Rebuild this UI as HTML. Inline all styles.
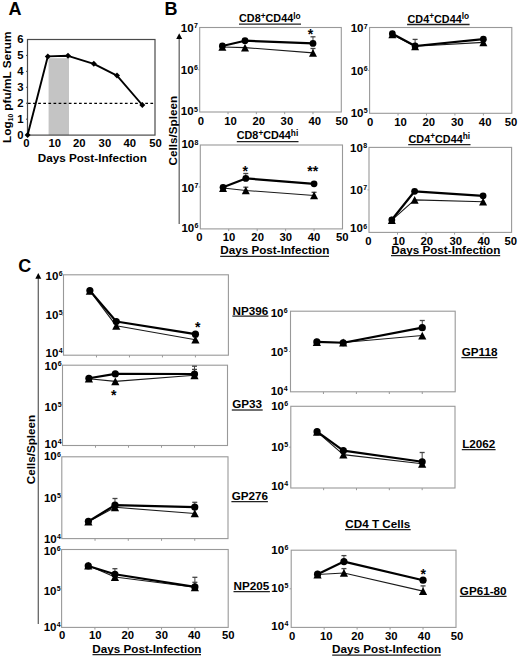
<!DOCTYPE html>
<html><head><meta charset="utf-8"><style>
html,body{margin:0;padding:0;background:#fff;overflow:hidden;width:520px;height:657px;}
svg{display:block;}
text{font-family:"Liberation Sans", sans-serif;}
</style></head><body>
<svg width="520" height="657" viewBox="0 0 520 657">
<rect width="520" height="657" fill="#fff"/>
<text transform="translate(8.60,14.80)" font-size="18" text-anchor="start" font-weight="bold" fill="#000">A</text>
<rect x="48.6" y="58.2" width="20.4" height="76.90" fill="#c4c4c4"/>
<line x1="28.00" y1="103.40" x2="155.00" y2="103.40" stroke="#000" stroke-width="1.1" stroke-dasharray="2.7,2.4"/>
<rect x="27.50" y="39.50" width="127.50" height="95.60" fill="none" stroke="#4a4a4a" stroke-width="1.2"/>
<line x1="26.00" y1="119.17" x2="27.50" y2="119.17" stroke="#4a4a4a" stroke-width="1" />
<line x1="26.00" y1="103.23" x2="27.50" y2="103.23" stroke="#4a4a4a" stroke-width="1" />
<line x1="26.00" y1="87.30" x2="27.50" y2="87.30" stroke="#4a4a4a" stroke-width="1" />
<line x1="26.00" y1="71.37" x2="27.50" y2="71.37" stroke="#4a4a4a" stroke-width="1" />
<line x1="26.00" y1="55.43" x2="27.50" y2="55.43" stroke="#4a4a4a" stroke-width="1" />
<text transform="translate(23.60,138.90)" font-size="11.3" text-anchor="end" font-weight="bold" fill="#000">0</text>
<text transform="translate(23.60,122.97)" font-size="11.3" text-anchor="end" font-weight="bold" fill="#000">1</text>
<text transform="translate(23.60,107.03)" font-size="11.3" text-anchor="end" font-weight="bold" fill="#000">2</text>
<text transform="translate(23.60,91.10)" font-size="11.3" text-anchor="end" font-weight="bold" fill="#000">3</text>
<text transform="translate(23.60,75.17)" font-size="11.3" text-anchor="end" font-weight="bold" fill="#000">4</text>
<text transform="translate(23.60,59.23)" font-size="11.3" text-anchor="end" font-weight="bold" fill="#000">5</text>
<text transform="translate(23.60,43.30)" font-size="11.3" text-anchor="end" font-weight="bold" fill="#000">6</text>
<text transform="translate(26.40,146.80)" font-size="11.3" text-anchor="middle" font-weight="bold" fill="#000">0</text>
<text transform="translate(54.70,146.80)" font-size="11.3" text-anchor="middle" font-weight="bold" fill="#000">10</text>
<text transform="translate(79.25,146.80)" font-size="11.3" text-anchor="middle" font-weight="bold" fill="#000">20</text>
<text transform="translate(104.90,146.80)" font-size="11.3" text-anchor="middle" font-weight="bold" fill="#000">30</text>
<text transform="translate(129.70,146.80)" font-size="11.3" text-anchor="middle" font-weight="bold" fill="#000">40</text>
<text transform="translate(155.60,146.80)" font-size="11.3" text-anchor="middle" font-weight="bold" fill="#000">50</text>
<polyline points="27.60,135.10 47.80,56.40 68.00,55.80 93.80,63.80 117.00,75.60 142.30,105.00" fill="none" stroke="#000" stroke-width="1.9" stroke-linejoin="round"/>
<polygon points="27.60,132.10 30.60,135.10 27.60,138.10 24.60,135.10" fill="#000"/>
<polygon points="47.80,53.40 50.80,56.40 47.80,59.40 44.80,56.40" fill="#000"/>
<polygon points="68.00,52.80 71.00,55.80 68.00,58.80 65.00,55.80" fill="#000"/>
<polygon points="93.80,60.80 96.80,63.80 93.80,66.80 90.80,63.80" fill="#000"/>
<polygon points="117.00,72.60 120.00,75.60 117.00,78.60 114.00,75.60" fill="#000"/>
<polygon points="142.30,102.00 145.30,105.00 142.30,108.00 139.30,105.00" fill="#000"/>
<text transform="translate(37.74,161.60)" font-size="11.7" text-anchor="start" font-weight="bold" fill="#000">Days Post-Infection</text>
<text transform="translate(11.0,142.9) rotate(-90)" font-size="11.8" font-weight="bold" fill="#000">Log<tspan font-size="6.6" dy="2.0">10</tspan><tspan dy="-2.0"> pfu/mL Serum</tspan></text>
<text transform="translate(164.60,14.80)" font-size="18" text-anchor="start" font-weight="bold" fill="#000">B</text>
<line x1="179.20" y1="37.00" x2="179.20" y2="224.00" stroke="#666" stroke-width="1.3" />
<polygon points="179.2,33.3 182.2,38.9 176.2,38.9" fill="#000"/>
<text transform="translate(176.70,130.65) rotate(-90)" font-size="11.7" text-anchor="middle" font-weight="bold" fill="#000">Cells/Spleen</text>
<rect x="199.70" y="27.50" width="141.60" height="84.50" fill="none" stroke="#999" stroke-width="1.1"/>
<text transform="translate(197.80,111.50)" font-size="7" text-anchor="end" font-weight="bold" fill="#000">5</text>
<text transform="translate(193.60,115.40)" font-size="11.5" text-anchor="end" font-weight="bold" fill="#000">10</text>
<text transform="translate(197.80,69.85)" font-size="7" text-anchor="end" font-weight="bold" fill="#000">6</text>
<text transform="translate(193.60,73.75)" font-size="11.5" text-anchor="end" font-weight="bold" fill="#000">10</text>
<line x1="198.20" y1="69.75" x2="199.70" y2="69.75" stroke="#999" stroke-width="1" />
<text transform="translate(197.80,28.10)" font-size="7" text-anchor="end" font-weight="bold" fill="#000">7</text>
<text transform="translate(193.60,32.00)" font-size="11.5" text-anchor="end" font-weight="bold" fill="#000">10</text>
<line x1="228.02" y1="112.00" x2="228.02" y2="114.20" stroke="#999" stroke-width="1" />
<line x1="256.34" y1="112.00" x2="256.34" y2="114.20" stroke="#999" stroke-width="1" />
<line x1="284.66" y1="112.00" x2="284.66" y2="114.20" stroke="#999" stroke-width="1" />
<line x1="312.98" y1="112.00" x2="312.98" y2="114.20" stroke="#999" stroke-width="1" />
<text transform="translate(201.01,124.80)" font-size="11.3" text-anchor="middle" font-weight="bold" fill="#000">0</text>
<text transform="translate(230.62,124.80)" font-size="11.3" text-anchor="middle" font-weight="bold" fill="#000">10</text>
<text transform="translate(258.84,124.80)" font-size="11.3" text-anchor="middle" font-weight="bold" fill="#000">20</text>
<text transform="translate(286.90,124.80)" font-size="11.3" text-anchor="middle" font-weight="bold" fill="#000">30</text>
<text transform="translate(314.75,124.80)" font-size="11.3" text-anchor="middle" font-weight="bold" fill="#000">40</text>
<text transform="translate(341.72,124.80)" font-size="11.3" text-anchor="middle" font-weight="bold" fill="#000">50</text>
<polyline points="222.36,47.00 245.01,47.60 312.98,52.85" fill="none" stroke="#1a1a1a" stroke-width="1.1" stroke-linejoin="round"/>
<polyline points="222.36,46.00 245.01,40.70 312.98,43.45" fill="none" stroke="#000" stroke-width="2.2" stroke-linejoin="round"/>
<line x1="312.98" y1="52.85" x2="312.98" y2="48.50" stroke="#444" stroke-width="1" />
<line x1="310.48" y1="48.50" x2="315.48" y2="48.50" stroke="#444" stroke-width="1.3" />
<line x1="312.98" y1="43.45" x2="312.98" y2="36.80" stroke="#444" stroke-width="1" />
<line x1="310.48" y1="36.80" x2="315.48" y2="36.80" stroke="#444" stroke-width="1.3" />
<polygon points="222.36,43.15 226.36,50.85 218.36,50.85" fill="#000"/>
<polygon points="245.01,43.75 249.01,51.45 241.01,51.45" fill="#000"/>
<polygon points="312.98,49.00 316.98,56.70 308.98,56.70" fill="#000"/>
<circle cx="222.36" cy="46.00" r="3.4" fill="#000"/>
<circle cx="245.01" cy="40.70" r="3.4" fill="#000"/>
<circle cx="312.98" cy="43.45" r="3.4" fill="#000"/>
<text transform="translate(310.50,39.14)" font-size="14" text-anchor="middle" font-weight="bold" fill="#000">*</text>
<text transform="translate(239.07,22.40)" font-size="10.8" text-anchor="start" font-weight="bold" fill="#000">CD8<tspan font-size="8.3" dy="-3.6">+</tspan><tspan dy="3.6">CD44</tspan><tspan font-size="8.3" dy="-3.6">lo</tspan></text>
<line x1="239.00" y1="24.10" x2="301.00" y2="24.10" stroke="#222" stroke-width="1.3" />
<rect x="369.60" y="27.50" width="142.20" height="85.80" fill="none" stroke="#999" stroke-width="1.1"/>
<text transform="translate(367.70,112.60)" font-size="7" text-anchor="end" font-weight="bold" fill="#000">5</text>
<text transform="translate(363.50,116.50)" font-size="11.5" text-anchor="end" font-weight="bold" fill="#000">10</text>
<text transform="translate(367.70,71.10)" font-size="7" text-anchor="end" font-weight="bold" fill="#000">6</text>
<text transform="translate(363.50,75.00)" font-size="11.5" text-anchor="end" font-weight="bold" fill="#000">10</text>
<line x1="368.10" y1="70.40" x2="369.60" y2="70.40" stroke="#999" stroke-width="1" />
<text transform="translate(367.70,28.50)" font-size="7" text-anchor="end" font-weight="bold" fill="#000">7</text>
<text transform="translate(363.50,32.40)" font-size="11.5" text-anchor="end" font-weight="bold" fill="#000">10</text>
<line x1="398.04" y1="113.30" x2="398.04" y2="115.50" stroke="#999" stroke-width="1" />
<line x1="426.48" y1="113.30" x2="426.48" y2="115.50" stroke="#999" stroke-width="1" />
<line x1="454.92" y1="113.30" x2="454.92" y2="115.50" stroke="#999" stroke-width="1" />
<line x1="483.36" y1="113.30" x2="483.36" y2="115.50" stroke="#999" stroke-width="1" />
<text transform="translate(370.26,125.60)" font-size="11.3" text-anchor="middle" font-weight="bold" fill="#000">0</text>
<text transform="translate(400.47,125.60)" font-size="11.3" text-anchor="middle" font-weight="bold" fill="#000">10</text>
<text transform="translate(428.74,125.60)" font-size="11.3" text-anchor="middle" font-weight="bold" fill="#000">20</text>
<text transform="translate(457.35,125.60)" font-size="11.3" text-anchor="middle" font-weight="bold" fill="#000">30</text>
<text transform="translate(485.15,125.60)" font-size="11.3" text-anchor="middle" font-weight="bold" fill="#000">40</text>
<text transform="translate(510.92,125.60)" font-size="11.3" text-anchor="middle" font-weight="bold" fill="#000">50</text>
<polyline points="392.35,34.45 415.10,46.30 483.36,42.35" fill="none" stroke="#1a1a1a" stroke-width="1.1" stroke-linejoin="round"/>
<polyline points="392.35,33.70 415.10,46.00 483.36,39.20" fill="none" stroke="#000" stroke-width="2.2" stroke-linejoin="round"/>
<line x1="415.10" y1="46.00" x2="415.10" y2="39.40" stroke="#444" stroke-width="1" />
<line x1="412.60" y1="39.40" x2="417.60" y2="39.40" stroke="#444" stroke-width="1.3" />
<polygon points="392.35,30.60 396.35,38.30 388.35,38.30" fill="#000"/>
<polygon points="415.10,42.45 419.10,50.15 411.10,50.15" fill="#000"/>
<polygon points="483.36,38.50 487.36,46.20 479.36,46.20" fill="#000"/>
<circle cx="392.35" cy="33.70" r="3.4" fill="#000"/>
<circle cx="415.10" cy="46.00" r="3.4" fill="#000"/>
<circle cx="483.36" cy="39.20" r="3.4" fill="#000"/>
<text transform="translate(407.57,22.70)" font-size="10.8" text-anchor="start" font-weight="bold" fill="#000">CD4<tspan font-size="8.3" dy="-3.6">+</tspan><tspan dy="3.6">CD44</tspan><tspan font-size="8.3" dy="-3.6">lo</tspan></text>
<line x1="407.10" y1="24.50" x2="469.60" y2="24.50" stroke="#222" stroke-width="1.3" />
<rect x="200.30" y="145.00" width="142.20" height="83.90" fill="none" stroke="#999" stroke-width="1.1"/>
<text transform="translate(198.40,228.20)" font-size="7" text-anchor="end" font-weight="bold" fill="#000">6</text>
<text transform="translate(194.20,232.10)" font-size="11.5" text-anchor="end" font-weight="bold" fill="#000">10</text>
<text transform="translate(198.40,187.60)" font-size="7" text-anchor="end" font-weight="bold" fill="#000">7</text>
<text transform="translate(194.20,191.50)" font-size="11.5" text-anchor="end" font-weight="bold" fill="#000">10</text>
<line x1="198.80" y1="186.95" x2="200.30" y2="186.95" stroke="#999" stroke-width="1" />
<text transform="translate(198.40,144.50)" font-size="7" text-anchor="end" font-weight="bold" fill="#000">8</text>
<text transform="translate(194.20,148.40)" font-size="11.5" text-anchor="end" font-weight="bold" fill="#000">10</text>
<line x1="228.74" y1="228.90" x2="228.74" y2="231.10" stroke="#999" stroke-width="1" />
<line x1="257.18" y1="228.90" x2="257.18" y2="231.10" stroke="#999" stroke-width="1" />
<line x1="285.62" y1="228.90" x2="285.62" y2="231.10" stroke="#999" stroke-width="1" />
<line x1="314.06" y1="228.90" x2="314.06" y2="231.10" stroke="#999" stroke-width="1" />
<text transform="translate(199.41,240.90)" font-size="11.3" text-anchor="middle" font-weight="bold" fill="#000">0</text>
<text transform="translate(229.02,240.90)" font-size="11.3" text-anchor="middle" font-weight="bold" fill="#000">10</text>
<text transform="translate(257.64,240.90)" font-size="11.3" text-anchor="middle" font-weight="bold" fill="#000">20</text>
<text transform="translate(285.85,240.90)" font-size="11.3" text-anchor="middle" font-weight="bold" fill="#000">30</text>
<text transform="translate(314.00,240.90)" font-size="11.3" text-anchor="middle" font-weight="bold" fill="#000">40</text>
<text transform="translate(342.17,240.90)" font-size="11.3" text-anchor="middle" font-weight="bold" fill="#000">50</text>
<polyline points="223.05,188.05 245.80,190.45 314.06,195.45" fill="none" stroke="#1a1a1a" stroke-width="1.1" stroke-linejoin="round"/>
<polyline points="223.05,187.30 245.80,178.40 314.06,183.85" fill="none" stroke="#000" stroke-width="2.2" stroke-linejoin="round"/>
<line x1="245.80" y1="190.45" x2="245.80" y2="187.20" stroke="#444" stroke-width="1" />
<line x1="243.30" y1="187.20" x2="248.30" y2="187.20" stroke="#444" stroke-width="1.3" />
<line x1="314.06" y1="195.45" x2="314.06" y2="192.30" stroke="#444" stroke-width="1" />
<line x1="311.56" y1="192.30" x2="316.56" y2="192.30" stroke="#444" stroke-width="1.3" />
<line x1="245.80" y1="178.40" x2="245.80" y2="173.50" stroke="#444" stroke-width="1" />
<line x1="243.30" y1="173.50" x2="248.30" y2="173.50" stroke="#444" stroke-width="1.3" />
<polygon points="223.05,184.20 227.05,191.90 219.05,191.90" fill="#000"/>
<polygon points="245.80,186.60 249.80,194.30 241.80,194.30" fill="#000"/>
<polygon points="314.06,191.60 318.06,199.30 310.06,199.30" fill="#000"/>
<circle cx="223.05" cy="187.30" r="3.4" fill="#000"/>
<circle cx="245.80" cy="178.40" r="3.4" fill="#000"/>
<circle cx="314.06" cy="183.85" r="3.4" fill="#000"/>
<text transform="translate(245.10,175.64)" font-size="14" text-anchor="middle" font-weight="bold" fill="#000">*</text>
<text transform="translate(312.70,175.54)" font-size="14" text-anchor="middle" font-weight="bold" fill="#000">**</text>
<text transform="translate(236.77,139.40)" font-size="10.8" text-anchor="start" font-weight="bold" fill="#000">CD8<tspan font-size="8.3" dy="-3.6">+</tspan><tspan dy="3.6">CD44</tspan><tspan font-size="8.3" dy="-3.6">hi</tspan></text>
<line x1="236.80" y1="141.70" x2="298.50" y2="141.70" stroke="#222" stroke-width="1.3" />
<text transform="translate(220.24,254.40)" font-size="11.7" text-anchor="start" font-weight="bold" fill="#000">Days Post-Infection</text>
<line x1="220.20" y1="256.40" x2="329.00" y2="256.40" stroke="#222" stroke-width="1.3" />
<rect x="369.00" y="147.40" width="142.60" height="85.00" fill="none" stroke="#999" stroke-width="1.1"/>
<text transform="translate(367.10,228.50)" font-size="7" text-anchor="end" font-weight="bold" fill="#000">6</text>
<text transform="translate(362.90,232.40)" font-size="11.5" text-anchor="end" font-weight="bold" fill="#000">10</text>
<text transform="translate(367.10,190.30)" font-size="7" text-anchor="end" font-weight="bold" fill="#000">7</text>
<text transform="translate(362.90,194.20)" font-size="11.5" text-anchor="end" font-weight="bold" fill="#000">10</text>
<line x1="367.50" y1="189.90" x2="369.00" y2="189.90" stroke="#999" stroke-width="1" />
<text transform="translate(367.10,147.90)" font-size="7" text-anchor="end" font-weight="bold" fill="#000">8</text>
<text transform="translate(362.90,151.80)" font-size="11.5" text-anchor="end" font-weight="bold" fill="#000">10</text>
<line x1="397.52" y1="232.40" x2="397.52" y2="234.60" stroke="#999" stroke-width="1" />
<line x1="426.04" y1="232.40" x2="426.04" y2="234.60" stroke="#999" stroke-width="1" />
<line x1="454.56" y1="232.40" x2="454.56" y2="234.60" stroke="#999" stroke-width="1" />
<line x1="483.08" y1="232.40" x2="483.08" y2="234.60" stroke="#999" stroke-width="1" />
<text transform="translate(368.46,244.70)" font-size="11.3" text-anchor="middle" font-weight="bold" fill="#000">0</text>
<text transform="translate(398.87,244.70)" font-size="11.3" text-anchor="middle" font-weight="bold" fill="#000">10</text>
<text transform="translate(426.74,244.70)" font-size="11.3" text-anchor="middle" font-weight="bold" fill="#000">20</text>
<text transform="translate(455.85,244.70)" font-size="11.3" text-anchor="middle" font-weight="bold" fill="#000">30</text>
<text transform="translate(483.75,244.70)" font-size="11.3" text-anchor="middle" font-weight="bold" fill="#000">40</text>
<text transform="translate(510.67,244.70)" font-size="11.3" text-anchor="middle" font-weight="bold" fill="#000">50</text>
<polyline points="391.82,220.15 414.63,199.90 483.08,201.70" fill="none" stroke="#1a1a1a" stroke-width="1.1" stroke-linejoin="round"/>
<polyline points="391.82,219.80 414.63,191.30 483.08,195.85" fill="none" stroke="#000" stroke-width="2.2" stroke-linejoin="round"/>
<polygon points="391.82,216.30 395.82,224.00 387.82,224.00" fill="#000"/>
<polygon points="414.63,196.05 418.63,203.75 410.63,203.75" fill="#000"/>
<polygon points="483.08,197.85 487.08,205.55 479.08,205.55" fill="#000"/>
<circle cx="391.82" cy="219.80" r="3.4" fill="#000"/>
<circle cx="414.63" cy="191.30" r="3.4" fill="#000"/>
<circle cx="483.08" cy="195.85" r="3.4" fill="#000"/>
<text transform="translate(408.57,142.80)" font-size="10.8" text-anchor="start" font-weight="bold" fill="#000">CD4<tspan font-size="8.3" dy="-3.6">+</tspan><tspan dy="3.6">CD44</tspan><tspan font-size="8.3" dy="-3.6">hi</tspan></text>
<line x1="408.20" y1="144.70" x2="470.50" y2="144.70" stroke="#222" stroke-width="1.3" />
<text transform="translate(391.24,253.80)" font-size="11.7" text-anchor="start" font-weight="bold" fill="#000">Days Post-Infection</text>
<line x1="391.00" y1="255.60" x2="500.20" y2="255.60" stroke="#222" stroke-width="1.3" />
<text transform="translate(18.20,271.90)" font-size="18" text-anchor="start" font-weight="bold" fill="#000">C</text>
<line x1="38.30" y1="278.00" x2="38.30" y2="624.00" stroke="#666" stroke-width="1.3" />
<polygon points="38.3,273.1 41.3,278.8 35.3,278.8" fill="#000"/>
<text transform="translate(34.50,449.55) rotate(-90)" font-size="11.7" text-anchor="middle" font-weight="bold" fill="#000">Cells/Spleen</text>
<rect x="63.50" y="274.80" width="164.90" height="80.40" fill="none" stroke="#999" stroke-width="1.1"/>
<text transform="translate(62.60,353.40)" font-size="7" text-anchor="end" font-weight="bold" fill="#000">4</text>
<text transform="translate(58.40,357.30)" font-size="11.5" text-anchor="end" font-weight="bold" fill="#000">10</text>
<text transform="translate(62.60,314.60)" font-size="7" text-anchor="end" font-weight="bold" fill="#000">5</text>
<text transform="translate(58.40,318.50)" font-size="11.5" text-anchor="end" font-weight="bold" fill="#000">10</text>
<line x1="62.00" y1="315.00" x2="63.50" y2="315.00" stroke="#999" stroke-width="1" />
<text transform="translate(62.60,275.90)" font-size="7" text-anchor="end" font-weight="bold" fill="#000">6</text>
<text transform="translate(58.40,279.80)" font-size="11.5" text-anchor="end" font-weight="bold" fill="#000">10</text>
<line x1="96.48" y1="355.20" x2="96.48" y2="357.40" stroke="#999" stroke-width="1" />
<line x1="129.46" y1="355.20" x2="129.46" y2="357.40" stroke="#999" stroke-width="1" />
<line x1="162.44" y1="355.20" x2="162.44" y2="357.40" stroke="#999" stroke-width="1" />
<line x1="195.42" y1="355.20" x2="195.42" y2="357.40" stroke="#999" stroke-width="1" />
<polyline points="89.88,290.90 116.27,325.80 195.42,339.70" fill="none" stroke="#1a1a1a" stroke-width="1.1" stroke-linejoin="round"/>
<polyline points="89.88,290.60 116.27,321.50 195.42,334.15" fill="none" stroke="#000" stroke-width="2.2" stroke-linejoin="round"/>
<polygon points="89.88,287.00 93.98,294.80 85.78,294.80" fill="#000"/>
<polygon points="116.27,321.90 120.37,329.70 112.17,329.70" fill="#000"/>
<polygon points="195.42,335.80 199.52,343.60 191.32,343.60" fill="#000"/>
<circle cx="89.88" cy="290.60" r="3.6" fill="#000"/>
<circle cx="116.27" cy="321.50" r="3.6" fill="#000"/>
<circle cx="195.42" cy="334.15" r="3.6" fill="#000"/>
<text transform="translate(197.60,331.89)" font-size="14" text-anchor="middle" font-weight="bold" fill="#000">*</text>
<text transform="translate(232.44,314.60)" font-size="11.7" text-anchor="start" font-weight="bold" fill="#000">NP396</text>
<line x1="232.40" y1="316.20" x2="268.40" y2="316.20" stroke="#222" stroke-width="1.3" />
<rect x="62.50" y="365.20" width="165.00" height="80.30" fill="none" stroke="#999" stroke-width="1.1"/>
<text transform="translate(61.60,444.20)" font-size="7" text-anchor="end" font-weight="bold" fill="#000">4</text>
<text transform="translate(57.40,448.10)" font-size="11.5" text-anchor="end" font-weight="bold" fill="#000">10</text>
<text transform="translate(61.60,407.00)" font-size="7" text-anchor="end" font-weight="bold" fill="#000">5</text>
<text transform="translate(57.40,410.90)" font-size="11.5" text-anchor="end" font-weight="bold" fill="#000">10</text>
<line x1="61.00" y1="405.35" x2="62.50" y2="405.35" stroke="#999" stroke-width="1" />
<text transform="translate(61.60,366.40)" font-size="7" text-anchor="end" font-weight="bold" fill="#000">6</text>
<text transform="translate(57.40,370.30)" font-size="11.5" text-anchor="end" font-weight="bold" fill="#000">10</text>
<line x1="95.50" y1="445.50" x2="95.50" y2="447.70" stroke="#999" stroke-width="1" />
<line x1="128.50" y1="445.50" x2="128.50" y2="447.70" stroke="#999" stroke-width="1" />
<line x1="161.50" y1="445.50" x2="161.50" y2="447.70" stroke="#999" stroke-width="1" />
<line x1="194.50" y1="445.50" x2="194.50" y2="447.70" stroke="#999" stroke-width="1" />
<polyline points="88.90,378.70 115.30,381.40 194.50,375.30" fill="none" stroke="#1a1a1a" stroke-width="1.1" stroke-linejoin="round"/>
<polyline points="88.90,378.25 115.30,373.95 194.50,374.00" fill="none" stroke="#000" stroke-width="2.2" stroke-linejoin="round"/>
<line x1="194.50" y1="375.30" x2="194.50" y2="369.40" stroke="#444" stroke-width="1" />
<line x1="192.00" y1="369.40" x2="197.00" y2="369.40" stroke="#444" stroke-width="1.3" />
<line x1="194.50" y1="374.00" x2="194.50" y2="366.20" stroke="#444" stroke-width="1" />
<line x1="192.00" y1="366.20" x2="197.00" y2="366.20" stroke="#444" stroke-width="1.3" />
<polygon points="88.90,374.80 93.00,382.60 84.80,382.60" fill="#000"/>
<polygon points="115.30,377.50 119.40,385.30 111.20,385.30" fill="#000"/>
<polygon points="194.50,371.40 198.60,379.20 190.40,379.20" fill="#000"/>
<circle cx="88.90" cy="378.25" r="3.6" fill="#000"/>
<circle cx="115.30" cy="373.95" r="3.6" fill="#000"/>
<circle cx="194.50" cy="374.00" r="3.6" fill="#000"/>
<text transform="translate(113.70,399.54)" font-size="14" text-anchor="middle" font-weight="bold" fill="#000">*</text>
<text transform="translate(232.18,408.10)" font-size="11.7" text-anchor="start" font-weight="bold" fill="#000">GP33</text>
<line x1="231.80" y1="410.00" x2="262.70" y2="410.00" stroke="#222" stroke-width="1.3" />
<rect x="61.80" y="456.80" width="166.20" height="81.80" fill="none" stroke="#999" stroke-width="1.1"/>
<text transform="translate(60.90,538.60)" font-size="7" text-anchor="end" font-weight="bold" fill="#000">4</text>
<text transform="translate(56.70,542.50)" font-size="11.5" text-anchor="end" font-weight="bold" fill="#000">10</text>
<text transform="translate(60.90,497.85)" font-size="7" text-anchor="end" font-weight="bold" fill="#000">5</text>
<text transform="translate(56.70,501.75)" font-size="11.5" text-anchor="end" font-weight="bold" fill="#000">10</text>
<line x1="60.30" y1="497.70" x2="61.80" y2="497.70" stroke="#999" stroke-width="1" />
<text transform="translate(60.90,456.50)" font-size="7" text-anchor="end" font-weight="bold" fill="#000">6</text>
<text transform="translate(56.70,460.40)" font-size="11.5" text-anchor="end" font-weight="bold" fill="#000">10</text>
<line x1="95.04" y1="538.60" x2="95.04" y2="540.80" stroke="#999" stroke-width="1" />
<line x1="128.28" y1="538.60" x2="128.28" y2="540.80" stroke="#999" stroke-width="1" />
<line x1="161.52" y1="538.60" x2="161.52" y2="540.80" stroke="#999" stroke-width="1" />
<line x1="194.76" y1="538.60" x2="194.76" y2="540.80" stroke="#999" stroke-width="1" />
<polyline points="88.39,521.70 114.98,507.30 194.76,513.45" fill="none" stroke="#1a1a1a" stroke-width="1.1" stroke-linejoin="round"/>
<polyline points="88.39,521.35 114.98,505.15 194.76,507.10" fill="none" stroke="#000" stroke-width="2.2" stroke-linejoin="round"/>
<line x1="114.98" y1="505.15" x2="114.98" y2="498.50" stroke="#444" stroke-width="1" />
<line x1="112.48" y1="498.50" x2="117.48" y2="498.50" stroke="#444" stroke-width="1.3" />
<line x1="194.76" y1="507.10" x2="194.76" y2="502.30" stroke="#444" stroke-width="1" />
<line x1="192.26" y1="502.30" x2="197.26" y2="502.30" stroke="#444" stroke-width="1.3" />
<polygon points="88.39,517.80 92.49,525.60 84.29,525.60" fill="#000"/>
<polygon points="114.98,503.40 119.08,511.20 110.88,511.20" fill="#000"/>
<polygon points="194.76,509.55 198.86,517.35 190.66,517.35" fill="#000"/>
<circle cx="88.39" cy="521.35" r="3.6" fill="#000"/>
<circle cx="114.98" cy="505.15" r="3.6" fill="#000"/>
<circle cx="194.76" cy="507.10" r="3.6" fill="#000"/>
<text transform="translate(231.73,499.70)" font-size="11.7" text-anchor="start" font-weight="bold" fill="#000">GP276</text>
<line x1="231.40" y1="501.60" x2="267.90" y2="501.60" stroke="#222" stroke-width="1.3" />
<rect x="61.60" y="549.50" width="166.60" height="77.90" fill="none" stroke="#999" stroke-width="1.1"/>
<text transform="translate(60.70,626.85)" font-size="7" text-anchor="end" font-weight="bold" fill="#000">4</text>
<text transform="translate(56.50,630.75)" font-size="11.5" text-anchor="end" font-weight="bold" fill="#000">10</text>
<text transform="translate(60.70,590.60)" font-size="7" text-anchor="end" font-weight="bold" fill="#000">5</text>
<text transform="translate(56.50,594.50)" font-size="11.5" text-anchor="end" font-weight="bold" fill="#000">10</text>
<line x1="60.10" y1="588.45" x2="61.60" y2="588.45" stroke="#999" stroke-width="1" />
<text transform="translate(60.70,551.30)" font-size="7" text-anchor="end" font-weight="bold" fill="#000">6</text>
<text transform="translate(56.50,555.20)" font-size="11.5" text-anchor="end" font-weight="bold" fill="#000">10</text>
<line x1="94.92" y1="627.40" x2="94.92" y2="629.60" stroke="#999" stroke-width="1" />
<line x1="128.24" y1="627.40" x2="128.24" y2="629.60" stroke="#999" stroke-width="1" />
<line x1="161.56" y1="627.40" x2="161.56" y2="629.60" stroke="#999" stroke-width="1" />
<line x1="194.88" y1="627.40" x2="194.88" y2="629.60" stroke="#999" stroke-width="1" />
<text transform="translate(62.06,639.00)" font-size="11.3" text-anchor="middle" font-weight="bold" fill="#000">0</text>
<text transform="translate(95.27,639.00)" font-size="11.3" text-anchor="middle" font-weight="bold" fill="#000">10</text>
<text transform="translate(127.74,639.00)" font-size="11.3" text-anchor="middle" font-weight="bold" fill="#000">20</text>
<text transform="translate(161.65,639.00)" font-size="11.3" text-anchor="middle" font-weight="bold" fill="#000">30</text>
<text transform="translate(194.25,639.00)" font-size="11.3" text-anchor="middle" font-weight="bold" fill="#000">40</text>
<text transform="translate(228.17,639.00)" font-size="11.3" text-anchor="middle" font-weight="bold" fill="#000">50</text>
<polyline points="88.26,565.60 114.91,577.00 194.88,587.30" fill="none" stroke="#1a1a1a" stroke-width="1.1" stroke-linejoin="round"/>
<polyline points="88.26,565.95 114.91,574.25 194.88,586.90" fill="none" stroke="#000" stroke-width="2.2" stroke-linejoin="round"/>
<line x1="194.88" y1="587.30" x2="194.88" y2="582.30" stroke="#444" stroke-width="1" />
<line x1="192.38" y1="582.30" x2="197.38" y2="582.30" stroke="#444" stroke-width="1.3" />
<line x1="114.91" y1="574.25" x2="114.91" y2="568.70" stroke="#444" stroke-width="1" />
<line x1="112.41" y1="568.70" x2="117.41" y2="568.70" stroke="#444" stroke-width="1.3" />
<line x1="194.88" y1="586.90" x2="194.88" y2="577.30" stroke="#444" stroke-width="1" />
<line x1="192.38" y1="577.30" x2="197.38" y2="577.30" stroke="#444" stroke-width="1.3" />
<polygon points="88.26,561.70 92.36,569.50 84.16,569.50" fill="#000"/>
<polygon points="114.91,573.10 119.01,580.90 110.81,580.90" fill="#000"/>
<polygon points="194.88,583.40 198.98,591.20 190.78,591.20" fill="#000"/>
<circle cx="88.26" cy="565.95" r="3.6" fill="#000"/>
<circle cx="114.91" cy="574.25" r="3.6" fill="#000"/>
<circle cx="194.88" cy="586.90" r="3.6" fill="#000"/>
<text transform="translate(233.54,589.80)" font-size="11.7" text-anchor="start" font-weight="bold" fill="#000">NP205</text>
<line x1="233.50" y1="591.60" x2="269.90" y2="591.60" stroke="#222" stroke-width="1.3" />
<text transform="translate(92.34,652.50)" font-size="11.7" text-anchor="start" font-weight="bold" fill="#000">Days Post-Infection</text>
<line x1="92.50" y1="654.70" x2="201.00" y2="654.70" stroke="#222" stroke-width="1.3" />
<rect x="290.50" y="311.20" width="164.70" height="80.60" fill="none" stroke="#999" stroke-width="1.1"/>
<text transform="translate(287.70,390.70)" font-size="7" text-anchor="end" font-weight="bold" fill="#000">4</text>
<text transform="translate(283.50,394.60)" font-size="11.5" text-anchor="end" font-weight="bold" fill="#000">10</text>
<text transform="translate(287.70,352.40)" font-size="7" text-anchor="end" font-weight="bold" fill="#000">5</text>
<text transform="translate(283.50,356.30)" font-size="11.5" text-anchor="end" font-weight="bold" fill="#000">10</text>
<line x1="289.00" y1="351.50" x2="290.50" y2="351.50" stroke="#999" stroke-width="1" />
<text transform="translate(287.70,312.70)" font-size="7" text-anchor="end" font-weight="bold" fill="#000">6</text>
<text transform="translate(283.50,316.60)" font-size="11.5" text-anchor="end" font-weight="bold" fill="#000">10</text>
<line x1="323.44" y1="391.80" x2="323.44" y2="394.00" stroke="#999" stroke-width="1" />
<line x1="356.38" y1="391.80" x2="356.38" y2="394.00" stroke="#999" stroke-width="1" />
<line x1="389.32" y1="391.80" x2="389.32" y2="394.00" stroke="#999" stroke-width="1" />
<line x1="422.26" y1="391.80" x2="422.26" y2="394.00" stroke="#999" stroke-width="1" />
<polyline points="316.85,342.20 343.20,342.50 422.26,335.55" fill="none" stroke="#1a1a1a" stroke-width="1.1" stroke-linejoin="round"/>
<polyline points="316.85,341.90 343.20,342.75 422.26,327.70" fill="none" stroke="#000" stroke-width="2.2" stroke-linejoin="round"/>
<line x1="422.26" y1="327.70" x2="422.26" y2="320.50" stroke="#444" stroke-width="1" />
<line x1="419.76" y1="320.50" x2="424.76" y2="320.50" stroke="#444" stroke-width="1.3" />
<polygon points="316.85,338.30 320.95,346.10 312.75,346.10" fill="#000"/>
<polygon points="343.20,338.60 347.30,346.40 339.10,346.40" fill="#000"/>
<polygon points="422.26,331.65 426.36,339.45 418.16,339.45" fill="#000"/>
<circle cx="316.85" cy="341.90" r="3.6" fill="#000"/>
<circle cx="343.20" cy="342.75" r="3.6" fill="#000"/>
<circle cx="422.26" cy="327.70" r="3.6" fill="#000"/>
<text transform="translate(461.73,355.70)" font-size="11.7" text-anchor="start" font-weight="bold" fill="#000">GP118</text>
<line x1="461.40" y1="357.60" x2="497.30" y2="357.60" stroke="#222" stroke-width="1.3" />
<rect x="290.80" y="406.30" width="164.20" height="81.70" fill="none" stroke="#999" stroke-width="1.1"/>
<text transform="translate(288.20,486.40)" font-size="7" text-anchor="end" font-weight="bold" fill="#000">4</text>
<text transform="translate(284.00,490.30)" font-size="11.5" text-anchor="end" font-weight="bold" fill="#000">10</text>
<text transform="translate(288.20,447.40)" font-size="7" text-anchor="end" font-weight="bold" fill="#000">5</text>
<text transform="translate(284.00,451.30)" font-size="11.5" text-anchor="end" font-weight="bold" fill="#000">10</text>
<line x1="289.30" y1="447.15" x2="290.80" y2="447.15" stroke="#999" stroke-width="1" />
<text transform="translate(288.20,406.20)" font-size="7" text-anchor="end" font-weight="bold" fill="#000">6</text>
<text transform="translate(284.00,410.10)" font-size="11.5" text-anchor="end" font-weight="bold" fill="#000">10</text>
<line x1="323.64" y1="488.00" x2="323.64" y2="490.20" stroke="#999" stroke-width="1" />
<line x1="356.48" y1="488.00" x2="356.48" y2="490.20" stroke="#999" stroke-width="1" />
<line x1="389.32" y1="488.00" x2="389.32" y2="490.20" stroke="#999" stroke-width="1" />
<line x1="422.16" y1="488.00" x2="422.16" y2="490.20" stroke="#999" stroke-width="1" />
<polyline points="317.07,431.90 343.34,454.60 422.16,463.80" fill="none" stroke="#1a1a1a" stroke-width="1.1" stroke-linejoin="round"/>
<polyline points="317.07,431.65 343.34,450.70 422.16,461.75" fill="none" stroke="#000" stroke-width="2.2" stroke-linejoin="round"/>
<line x1="422.16" y1="461.75" x2="422.16" y2="452.50" stroke="#444" stroke-width="1" />
<line x1="419.66" y1="452.50" x2="424.66" y2="452.50" stroke="#444" stroke-width="1.3" />
<polygon points="317.07,428.00 321.17,435.80 312.97,435.80" fill="#000"/>
<polygon points="343.34,450.70 347.44,458.50 339.24,458.50" fill="#000"/>
<polygon points="422.16,459.90 426.26,467.70 418.06,467.70" fill="#000"/>
<circle cx="317.07" cy="431.65" r="3.6" fill="#000"/>
<circle cx="343.34" cy="450.70" r="3.6" fill="#000"/>
<circle cx="422.16" cy="461.75" r="3.6" fill="#000"/>
<text transform="translate(462.14,447.70)" font-size="11.7" text-anchor="start" font-weight="bold" fill="#000">L2062</text>
<line x1="461.80" y1="449.60" x2="495.60" y2="449.60" stroke="#222" stroke-width="1.3" />
<text transform="translate(345.33,527.90)" font-size="11.7" text-anchor="start" font-weight="bold" fill="#000">CD4 T Cells</text>
<line x1="345.00" y1="529.70" x2="410.70" y2="529.70" stroke="#222" stroke-width="1.3" />
<rect x="291.20" y="550.20" width="164.80" height="77.20" fill="none" stroke="#999" stroke-width="1.1"/>
<text transform="translate(288.30,625.70)" font-size="7" text-anchor="end" font-weight="bold" fill="#000">4</text>
<text transform="translate(284.10,629.60)" font-size="11.5" text-anchor="end" font-weight="bold" fill="#000">10</text>
<text transform="translate(288.30,588.10)" font-size="7" text-anchor="end" font-weight="bold" fill="#000">5</text>
<text transform="translate(284.10,592.00)" font-size="11.5" text-anchor="end" font-weight="bold" fill="#000">10</text>
<line x1="289.70" y1="588.80" x2="291.20" y2="588.80" stroke="#999" stroke-width="1" />
<text transform="translate(288.30,550.10)" font-size="7" text-anchor="end" font-weight="bold" fill="#000">6</text>
<text transform="translate(284.10,554.00)" font-size="11.5" text-anchor="end" font-weight="bold" fill="#000">10</text>
<line x1="324.16" y1="627.40" x2="324.16" y2="629.60" stroke="#999" stroke-width="1" />
<line x1="357.12" y1="627.40" x2="357.12" y2="629.60" stroke="#999" stroke-width="1" />
<line x1="390.08" y1="627.40" x2="390.08" y2="629.60" stroke="#999" stroke-width="1" />
<line x1="423.04" y1="627.40" x2="423.04" y2="629.60" stroke="#999" stroke-width="1" />
<text transform="translate(292.11,640.00)" font-size="11.3" text-anchor="middle" font-weight="bold" fill="#000">0</text>
<text transform="translate(326.17,640.00)" font-size="11.3" text-anchor="middle" font-weight="bold" fill="#000">10</text>
<text transform="translate(357.44,640.00)" font-size="11.3" text-anchor="middle" font-weight="bold" fill="#000">20</text>
<text transform="translate(391.30,640.00)" font-size="11.3" text-anchor="middle" font-weight="bold" fill="#000">30</text>
<text transform="translate(424.15,640.00)" font-size="11.3" text-anchor="middle" font-weight="bold" fill="#000">40</text>
<text transform="translate(457.07,640.00)" font-size="11.3" text-anchor="middle" font-weight="bold" fill="#000">50</text>
<polyline points="317.57,574.50 343.94,572.95 423.04,591.15" fill="none" stroke="#1a1a1a" stroke-width="1.1" stroke-linejoin="round"/>
<polyline points="317.57,574.15 343.94,561.60 423.04,580.20" fill="none" stroke="#000" stroke-width="2.2" stroke-linejoin="round"/>
<line x1="343.94" y1="572.95" x2="343.94" y2="568.60" stroke="#444" stroke-width="1" />
<line x1="341.44" y1="568.60" x2="346.44" y2="568.60" stroke="#444" stroke-width="1.3" />
<line x1="423.04" y1="591.15" x2="423.04" y2="585.90" stroke="#444" stroke-width="1" />
<line x1="420.54" y1="585.90" x2="425.54" y2="585.90" stroke="#444" stroke-width="1.3" />
<line x1="343.94" y1="561.60" x2="343.94" y2="555.60" stroke="#444" stroke-width="1" />
<line x1="341.44" y1="555.60" x2="346.44" y2="555.60" stroke="#444" stroke-width="1.3" />
<polygon points="317.57,570.60 321.67,578.40 313.47,578.40" fill="#000"/>
<polygon points="343.94,569.05 348.04,576.85 339.84,576.85" fill="#000"/>
<polygon points="423.04,587.25 427.14,595.05 418.94,595.05" fill="#000"/>
<circle cx="317.57" cy="574.15" r="3.6" fill="#000"/>
<circle cx="343.94" cy="561.60" r="3.6" fill="#000"/>
<circle cx="423.04" cy="580.20" r="3.6" fill="#000"/>
<text transform="translate(423.20,579.44)" font-size="14" text-anchor="middle" font-weight="bold" fill="#000">*</text>
<text transform="translate(459.83,594.70)" font-size="11.7" text-anchor="start" font-weight="bold" fill="#000">GP61-80</text>
<line x1="459.80" y1="596.30" x2="506.60" y2="596.30" stroke="#222" stroke-width="1.3" />
<text transform="translate(332.04,652.80)" font-size="11.7" text-anchor="start" font-weight="bold" fill="#000">Days Post-Infection</text>
<line x1="332.20" y1="655.20" x2="440.80" y2="655.20" stroke="#222" stroke-width="1.3" />
</svg></body></html>
